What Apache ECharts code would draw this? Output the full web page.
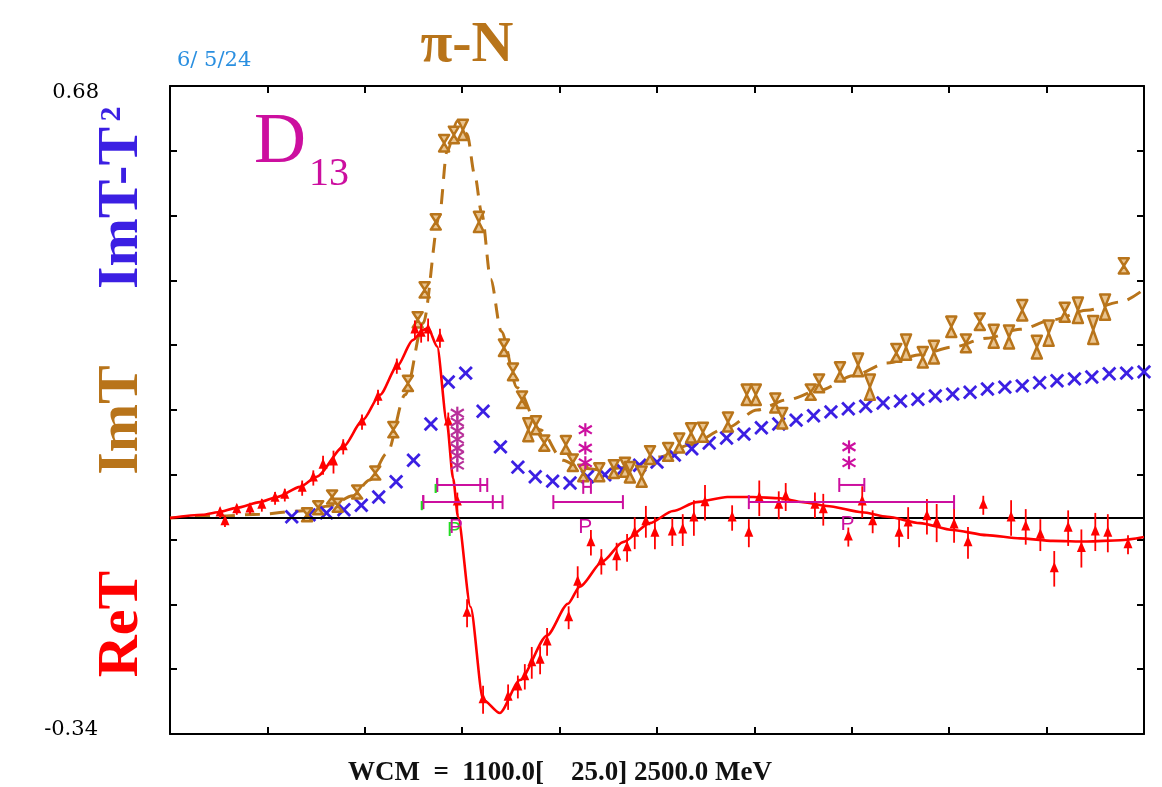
<!DOCTYPE html>
<html><head><meta charset="utf-8">
<script src="https://cdn.jsdelivr.net/npm/echarts@6/dist/echarts.min.js"></script>
<style>html,body{margin:0;padding:0;background:#fff}#c{width:1162px;height:787px}</style>
</head><body><div id="c"></div>
<script>
// ---------- data ----------
const xRange = [1100, 2500];
const yRange = [-0.34, 0.68];
const yEndLabels = ['0.68', '-0.34'];

// ReT fit curve (solid red)
const reFitW = [1100,1147,1169,1196,1229,1254,1287,1311,1349,1377,1402,1426,1449,1464,1471,1484,1498,1507,1514,1532,1550,1574,1603,1642,1672,1689,1722,1751,1790,1823,1857,1901,1938,1977,2010,2044,2095,2131,2178,2225,2274,2322,2369,2418,2466,2500];
const reFitV = [0,0.005,0.009,0.016,0.025,0.033,0.049,0.065,0.112,0.154,0.194,0.238,0.280,0.296,0.299,0.270,0.150,0.062,0.002,-0.140,-0.286,-0.307,-0.255,-0.185,-0.135,-0.108,-0.068,-0.038,-0.008,0.011,0.025,0.033,0.033,0.031,0.025,0.019,0.009,0.002,-0.008,-0.019,-0.027,-0.032,-0.036,-0.037,-0.035,-0.030];

// ImT fit curve (dashed brown)
const imFitW = [1100,1172,1229,1287,1330,1363,1387,1412,1438,1464,1487,1498,1513,1527,1538,1548,1561,1576,1599,1632,1665,1689,1718,1761,1804,1847,1901,1944,1987,2034,2082,2131,2178,2225,2274,2322,2369,2418,2466,2500];
const imFitV = [0,0.003,0.006,0.011,0.019,0.035,0.060,0.102,0.194,0.307,0.474,0.576,0.625,0.605,0.540,0.480,0.376,0.294,0.205,0.139,0.091,0.079,0.076,0.080,0.096,0.115,0.142,0.170,0.186,0.201,0.224,0.244,0.257,0.269,0.283,0.297,0.312,0.327,0.340,0.360];

// ReT data (red triangles with error bars)
const reDataW = [1172,1179,1196,1215,1232,1251,1265,1290,1306,1320,1335,1349,1376,1399,1426,1452,1461,1471,1488,1500,1513,1527,1550,1586,1600,1610,1620,1632,1642,1673,1686,1705,1720,1742,1757,1768,1784,1797,1822,1837,1853,1869,1908,1932,1947,1975,1985,2027,2039,2075,2095,2110,2148,2161,2188,2202,2227,2247,2269,2309,2330,2351,2371,2391,2410,2430,2448,2477];
const reDataV = [0.008,-0.006,0.013,0.014,0.020,0.031,0.036,0.047,0.063,0.083,0.088,0.112,0.151,0.190,0.239,0.296,0.291,0.296,0.283,0.151,0.025,-0.150,-0.286,-0.282,-0.266,-0.250,-0.228,-0.224,-0.195,-0.157,-0.101,-0.039,-0.069,-0.061,-0.047,-0.024,-0.006,-0.024,-0.022,-0.019,0.000,0.024,0.000,-0.024,0.031,0.020,0.033,0.020,0.013,-0.030,0.025,-0.006,-0.024,-0.008,0.002,-0.008,-0.011,-0.039,0.020,0.000,-0.014,-0.027,-0.080,-0.016,-0.048,-0.022,-0.024,-0.042];
const reDataErr = [0.008,0.008,0.008,0.008,0.010,0.010,0.010,0.012,0.012,0.015,0.018,0.012,0.012,0.012,0.012,0.015,0.015,0.018,0.015,0.015,0.015,0.022,0.022,0.020,0.018,0.020,0.025,0.022,0.022,0.018,0.025,0.020,0.020,0.022,0.022,0.025,0.025,0.025,0.022,0.025,0.028,0.028,0.020,0.022,0.028,0.022,0.022,0.020,0.025,0.015,0.025,0.018,0.022,0.025,0.028,0.030,0.028,0.025,0.015,0.028,0.028,0.025,0.028,0.028,0.030,0.030,0.030,0.015];

// ImT data (brown hourglasses)
const imDataW = [1297,1313,1333,1341,1369,1395,1421,1442,1456,1466,1482,1494,1508,1521,1544,1580,1593,1606,1615,1626,1638,1669,1679,1694,1717,1738,1754,1761,1778,1790,1816,1832,1849,1866,1902,1929,1942,1970,1980,2021,2033,2063,2089,2106,2144,2158,2182,2198,2223,2244,2264,2284,2306,2325,2346,2363,2386,2405,2427,2444,2471];
const imDataV = [0.005,0.016,0.033,0.020,0.041,0.071,0.139,0.212,0.312,0.359,0.466,0.590,0.603,0.611,0.466,0.268,0.230,0.186,0.139,0.146,0.118,0.115,0.087,0.071,0.072,0.077,0.080,0.072,0.065,0.099,0.104,0.118,0.134,0.135,0.151,0.194,0.194,0.181,0.157,0.198,0.212,0.230,0.241,0.206,0.260,0.269,0.253,0.261,0.301,0.275,0.309,0.286,0.285,0.327,0.269,0.291,0.324,0.327,0.296,0.332,0.397];
const imDataErr = [0.008,0.008,0.010,0.010,0.010,0.010,0.012,0.012,0.012,0.012,0.012,0.013,0.013,0.016,0.016,0.013,0.013,0.013,0.018,0.014,0.012,0.014,0.013,0.013,0.014,0.014,0.015,0.016,0.016,0.014,0.014,0.015,0.015,0.015,0.015,0.016,0.016,0.015,0.016,0.012,0.014,0.015,0.018,0.020,0.014,0.020,0.016,0.018,0.016,0.014,0.013,0.018,0.018,0.016,0.018,0.020,0.015,0.020,0.022,0.020,0.012];

// ImT - T^2 (blue crosses)
const crossW = [1275,1300,1325,1350,1375,1400,1425,1450,1475,1500,1525,1550,1575,1600,1625,1650,1675,1700,1725,1750,1775,1800,1825,1850,1875,1900,1925,1950,1975,2000,2025,2050,2075,2100,2125,2150,2175,2200,2225,2250,2275,2300,2325,2350,2375,2400,2425,2450,2475,2500];
const crossV = [0.002,0.005,0.008,0.013,0.020,0.033,0.057,0.091,0.148,0.214,0.228,0.168,0.112,0.080,0.065,0.058,0.055,0.065,0.068,0.076,0.083,0.088,0.099,0.109,0.118,0.126,0.132,0.142,0.148,0.154,0.161,0.167,0.172,0.176,0.181,0.184,0.187,0.192,0.195,0.198,0.203,0.206,0.208,0.213,0.216,0.219,0.222,0.227,0.228,0.230];

// Resonance markers (magenta)
const poleW = [1513,1513,1513,1513,1513,1513,1513,1697,1697,1697,2076,2076];
const poleV = [0.165,0.151,0.137,0.124,0.110,0.098,0.083,0.139,0.110,0.087,0.112,0.087];
const barLo = [1484,1484,1464,1464,1651,1694,2062,1932];
const barHi = [1546,1556,1564,1578,1751,1705,2098,2227];
const barV  = [0.052,0.052,0.025,0.025,0.025,0.049,0.052,0.025];
const pLabelW = [1511,1697,2074];
const pLabelV = [-0.015,-0.015,-0.009];
const pLabelText = ['P','P','P'];

// ---------- styles ----------
const RED = '#ff0000', BROWN = '#b8741a', BLUE = '#3b1fe3', MAG = '#cc0f9f', GREEN = '#22dd22';
const SERIF = '"Liberation Serif", "DejaVu Serif", serif';
const DSERIF = '"DejaVu Serif", serif';

function zip3(a, b, c) { return a.map((v, i) => c ? [v, b[i], c[i]] : [v, b[i]]); }

const chart = echarts.init(document.getElementById('c'), null, {renderer: 'canvas'});

function tickAxis(pos) {
  return {
    type: 'value', min: 0, max: 10, interval: 1, position: pos,
    axisLine: {show: true, onZero: false, lineStyle: {color: '#000', width: 2}},
    axisTick: {show: true, inside: true, length: 7, lineStyle: {color: '#000', width: 2}},
    axisLabel: {show: false}, splitLine: {show: false}
  };
}

const option = {
  animation: false,
  backgroundColor: '#fff',
  grid: {left: 170, right: 18, top: 86, bottom: 53, containLabel: false},
  xAxis: [
    {type: 'value', min: xRange[0], max: xRange[1], show: false},
    tickAxis('bottom'),
    tickAxis('top')
  ],
  yAxis: [
    {type: 'value', min: yRange[0], max: yRange[1], show: false},
    tickAxis('left'),
    tickAxis('right')
  ],
  graphic: [
    {type: 'text', x: 467, y: 46, style: {text: 'π-N', font: 'bold 58px ' + SERIF, fill: BROWN, align: 'center', verticalAlign: 'middle'}},
    {type: 'text', x: 177, y: 61, style: {text: '6/ 5/24', font: '21px ' + DSERIF, fill: '#2a8fe0', align: 'left', verticalAlign: 'middle'}},
    {type: 'text', x: 99, y: 93, style: {text: yEndLabels[0], font: '21px ' + DSERIF, fill: '#000', align: 'right', verticalAlign: 'middle'}},
    {type: 'text', x: 98, y: 730, style: {text: yEndLabels[1], font: '21px ' + DSERIF, fill: '#000', align: 'right', verticalAlign: 'middle'}},
    {type: 'text', x: 254, y: 143, style: {text: 'D', font: '72px ' + SERIF, fill: MAG, align: 'left', verticalAlign: 'middle'}},
    {type: 'text', x: 309, y: 174, style: {text: '13', font: '40px ' + SERIF, fill: MAG, align: 'left', verticalAlign: 'middle'}},
    {type: 'text', x: 122, y: 208, rotation: Math.PI / 2, style: {text: 'ImT-T', font: 'bold 58px ' + SERIF, fill: BLUE, align: 'center', verticalAlign: 'middle'}},
    {type: 'text', x: 112, y: 114, rotation: Math.PI / 2, style: {text: '2', font: 'bold 30px ' + SERIF, fill: BLUE, align: 'center', verticalAlign: 'middle'}},
    {type: 'text', x: 122, y: 420, rotation: Math.PI / 2, style: {text: 'ImT', font: 'bold 58px ' + SERIF, fill: BROWN, align: 'center', verticalAlign: 'middle'}},
    {type: 'text', x: 122, y: 624, rotation: Math.PI / 2, style: {text: 'ReT', font: 'bold 58px ' + SERIF, fill: RED, align: 'center', verticalAlign: 'middle'}},
    {type: 'text', x: 560, y: 773, style: {text: 'WCM  =  1100.0[    25.0] 2500.0 MeV', font: 'bold 27px ' + SERIF, fill: '#111', align: 'center', verticalAlign: 'middle'}}
  ],
  series: [
    {
      name: 'ImT fit', type: 'line', data: zip3(imFitW, imFitV), showSymbol: false,
      smooth: 0.3, smoothMonotone: 'x', z: 2,
      lineStyle: {color: BROWN, width: 3, type: [15, 10]},
      markLine: {silent: true, symbol: 'none', label: {show: false}, animation: false,
        lineStyle: {color: '#000', width: 2, type: 'solid'}, data: [{yAxis: 0}]}
    },
    {
      name: 'ImT-T2', type: 'custom', z: 3, data: zip3(crossW, crossV), encode: {x: 0, y: 1},
      renderItem: function (params, api) {
        const c = api.coord([api.value(0), api.value(1)]); const s = 6.2;
        return {type: 'group', children: [
          {type: 'line', shape: {x1: c[0] - s, y1: c[1] - s, x2: c[0] + s, y2: c[1] + s}, style: {stroke: BLUE, lineWidth: 2.8}},
          {type: 'line', shape: {x1: c[0] - s, y1: c[1] + s, x2: c[0] + s, y2: c[1] - s}, style: {stroke: BLUE, lineWidth: 2.8}}
        ]};
      }
    },
    {
      name: 'ImT data', type: 'custom', z: 4, data: zip3(imDataW, imDataV, imDataErr), encode: {x: 0, y: 1},
      renderItem: function (params, api) {
        const w = api.value(0), v = api.value(1), e = api.value(2);
        const c = api.coord([w, v]); const t = api.coord([w, v + e]);
        const h = Math.max(c[1] - t[1], 6.5); const hw = 5; const x = c[0], y = c[1];
        const st = {fill: '#e9c490', stroke: BROWN, lineWidth: 2.5, lineJoin: 'round'};
        return {type: 'group', children: [
          {type: 'polygon', shape: {points: [[x - hw, y - h], [x + hw, y - h], [x, y]]}, style: st},
          {type: 'polygon', shape: {points: [[x - hw, y + h], [x + hw, y + h], [x, y]]}, style: st}
        ]};
      }
    },
    {
      name: 'ReT fit', type: 'line', data: zip3(reFitW, reFitV), showSymbol: false,
      smooth: 0.25, smoothMonotone: 'x', z: 5,
      lineStyle: {color: RED, width: 2.6}
    },
    {
      name: 'ReT data', type: 'custom', z: 6, data: zip3(reDataW, reDataV, reDataErr), encode: {x: 0, y: 1},
      renderItem: function (params, api) {
        const w = api.value(0), v = api.value(1), e = api.value(2);
        const c = api.coord([w, v]); const t = api.coord([w, v + e]); const b = api.coord([w, v - e]);
        return {type: 'group', children: [
          {type: 'line', shape: {x1: c[0], y1: t[1], x2: c[0], y2: b[1]}, style: {stroke: RED, lineWidth: 1.8}},
          {type: 'polygon', shape: {points: [[c[0], c[1] - 7], [c[0] - 4.5, c[1] + 3.5], [c[0] + 4.5, c[1] + 3.5]]}, style: {fill: RED}}
        ]};
      }
    },
    {
      name: 'widths', type: 'custom', z: 7, data: zip3(barLo, barHi, barV), encode: {x: [0, 1], y: 2},
      renderItem: function (params, api) {
        const a = api.coord([api.value(0), api.value(2)]); const b = api.coord([api.value(1), api.value(2)]);
        const cap = 7; const st = {stroke: MAG, lineWidth: 2};
        const ch = [
          {type: 'line', shape: {x1: a[0], y1: a[1], x2: b[0], y2: b[1]}, style: st},
          {type: 'line', shape: {x1: a[0], y1: a[1] - cap, x2: a[0], y2: a[1] + cap}, style: st},
          {type: 'line', shape: {x1: b[0], y1: b[1] - cap, x2: b[0], y2: b[1] + cap}, style: st}
        ];
        if (params.dataIndex < 4) {
          ch.push({type: 'line', shape: {x1: a[0] - 1.5, y1: a[1] - 1, x2: a[0] - 1.5, y2: a[1] + cap + 1}, style: {stroke: GREEN, lineWidth: 1.8}});
        }
        return {type: 'group', children: ch};
      }
    },
    {
      name: 'poles', type: 'custom', z: 8, data: zip3(poleW, poleV), encode: {x: 0, y: 1},
      renderItem: function (params, api) {
        const c = api.coord([api.value(0), api.value(1)]); const s = 6.5;
        const col = params.dataIndex < 7 ? '#b8309a' : MAG;
        const st = {stroke: col, lineWidth: 2.2};
        return {type: 'group', children: [
          {type: 'line', shape: {x1: c[0] - s, y1: c[1] - s * 0.6, x2: c[0] + s, y2: c[1] + s * 0.6}, style: st},
          {type: 'line', shape: {x1: c[0] - s, y1: c[1] + s * 0.6, x2: c[0] + s, y2: c[1] - s * 0.6}, style: st},
          {type: 'line', shape: {x1: c[0], y1: c[1] - s, x2: c[0], y2: c[1] + s}, style: st}
        ]};
      }
    },
    {
      name: 'P labels', type: 'custom', z: 9, data: zip3(pLabelW, pLabelV), encode: {x: 0, y: 1},
      renderItem: function (params, api) {
        const c = api.coord([api.value(0), api.value(1)]);
        const ch = [];
        const f = '21px "Liberation Sans", sans-serif';
        if (params.dataIndex === 0) {
          ch.push({type: 'text', x: c[0] - 2, y: c[1] + 3, style: {text: pLabelText[params.dataIndex], font: f, fill: GREEN, align: 'center', verticalAlign: 'middle'}});
        }
        ch.push({type: 'text', x: c[0], y: c[1], style: {text: pLabelText[params.dataIndex], font: f, fill: MAG, align: 'center', verticalAlign: 'middle'}});
        return {type: 'group', children: ch};
      }
    }
  ]
};
chart.setOption(option);
</script></body></html>
